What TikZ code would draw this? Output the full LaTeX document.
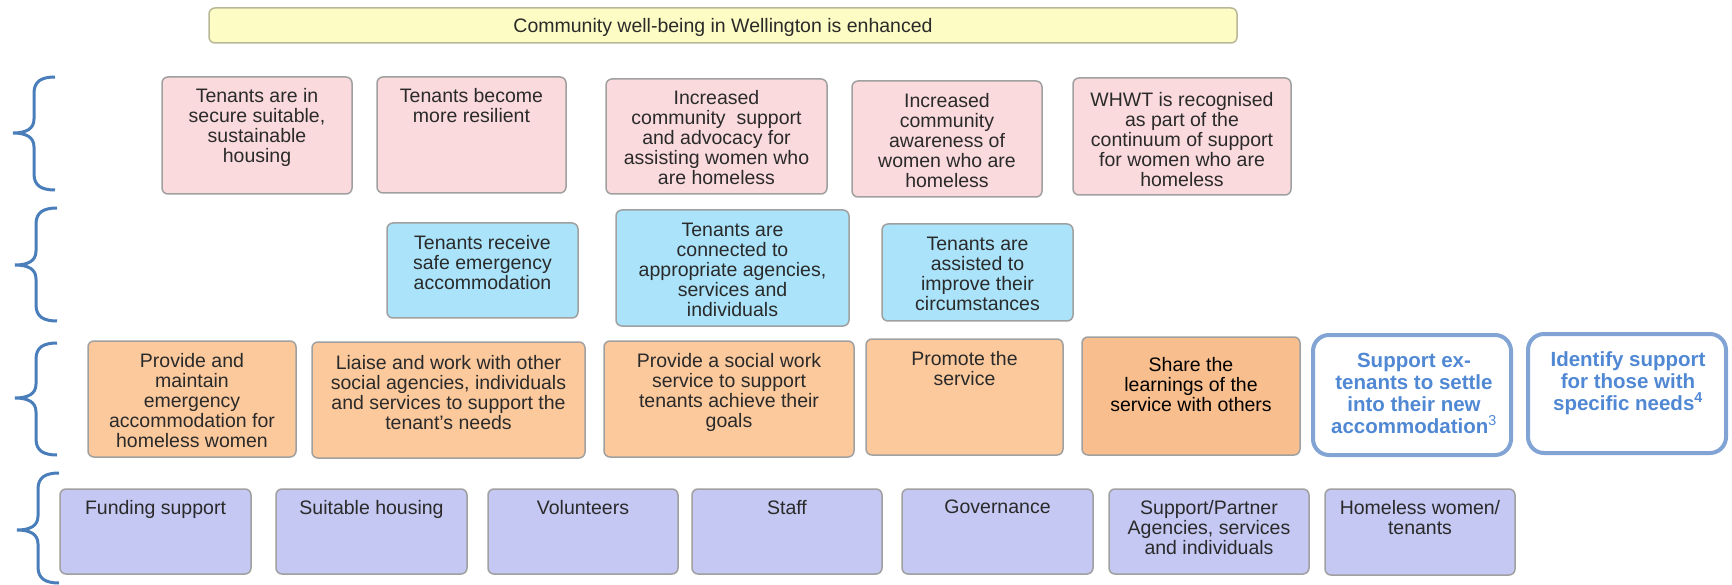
\documentclass[tikz,border=0pt]{standalone}
\usepackage{fontspec}
\setmainfont{Liberation Sans}

\definecolor{yellowfill}{RGB}{253,252,196}
\definecolor{yellowline}{RGB}{184,184,150}
\definecolor{pinkfill}{RGB}{250,218,221}
\definecolor{bluefill}{RGB}{170,227,250}
\definecolor{orangefill}{RGB}{252,201,157}
\definecolor{orangedark}{RGB}{248,190,141}
\definecolor{purplefill}{RGB}{196,200,242}
\definecolor{boxline}{RGB}{160,160,160}
\definecolor{bracecol}{RGB}{74,126,187}
\definecolor{outlinecol}{RGB}{130,164,212}
\definecolor{outlinetext}{RGB}{80,136,212}
\definecolor{textgray}{RGB}{42,42,42}

\begin{document}
\begin{tikzpicture}[x=1pt, y=-1pt,
  box/.style={draw=boxline, line width=1.5pt, rounded corners=6pt},
  outline/.style={draw=outlinecol, line width=4pt, rounded corners=16pt},
  txt/.style={anchor=north, inner sep=0pt, align=center, text=textgray,
    font=\fontsize{19.5}{20}\selectfont},
  boldtxt/.style={anchor=north, inner sep=0pt, align=center, text=outlinetext,
    font=\fontsize{20.5}{22}\selectfont\bfseries},
  brace/.style={draw=bracecol, line width=3pt}]
  \useasboundingbox (0,0) rectangle (1732,585);

  \foreach \ya/\ym/\yb/\dx in {77/133/190/0, 208/265/321/2, 343/398/455/2, 473/530/583/4}
    \draw[brace] (55+\dx,\ya) .. controls (42+\dx,\ya) and (34+\dx,\ya+4) .. (34+\dx,\ya+16)
      -- (34+\dx,\ym-14) .. controls (34+\dx,\ym-4) and (26+\dx,\ym) .. (13+\dx,\ym)
      .. controls (26+\dx,\ym) and (34+\dx,\ym+4) .. (34+\dx,\ym+14)
      -- (34+\dx,\yb-16) .. controls (34+\dx,\yb-4) and (42+\dx,\yb) .. (55+\dx,\yb);

  \draw[box, draw=yellowline, fill=yellowfill] (209,8) rectangle (1237,43);
  \node[txt, anchor=base] (goal) at (723,33) {Community well-being in Wellington is enhanced};

  \draw[box, fill=pinkfill] (162,77) rectangle (352,194);
  \draw[box, fill=pinkfill] (377,77) rectangle (566,193);
  \draw[box, fill=pinkfill] (606,79) rectangle (827,194);
  \draw[box, fill=pinkfill] (852,81) rectangle (1042,197);
  \draw[box, fill=pinkfill] (1073,78) rectangle (1291,195);
  \node[txt] (long1) at (257,88) {Tenants are in\\secure suitable,\\sustainable\\housing};
  \node[txt] (long2) at (471.5,88) {Tenants become\\more resilient};
  \node[txt] (long3) at (716.5,90) {Increased\\community\ \ support\\and advocacy for\\assisting women who\\are homeless};
  \node[txt] (long4) at (947,93) {Increased\\community\\awareness of\\women who are\\homeless};
  \node[txt] (long5) at (1182,92) {WHWT is recognised\\as part of the\\continuum of support\\for women who are\\homeless};

  \draw[box, fill=bluefill] (387,223) rectangle (578,318);
  \draw[box, fill=bluefill] (616,210) rectangle (849,326);
  \draw[box, fill=bluefill] (882,224) rectangle (1073,321);
  \node[txt] (short1) at (482.5,235) {Tenants receive\\safe emergency\\accommodation};
  \node[txt] (short2) at (732.5,223) {Tenants are\\connected to\\appropriate agencies,\\services and\\individuals};
  \node[txt] (short3) at (977.5,237) {Tenants are\\assisted to\\improve their\\circumstances};

  \draw[box, fill=orangefill] (88,341) rectangle (296,457);
  \draw[box, fill=orangefill] (312,342) rectangle (585,458);
  \draw[box, fill=orangefill] (604,341) rectangle (854,457);
  \draw[box, fill=orangefill] (866,339) rectangle (1063,455);
  \draw[box, fill=orangedark] (1082,337) rectangle (1300,455);
  \draw[outline] (1313,335) rectangle (1511,455);
  \draw[outline] (1528,334) rectangle (1726,453);
  \node[txt] (act1) at (192,353) {Provide and\\maintain\\emergency\\accommodation for\\homeless women};
  \node[txt] (act2) at (448.5,355) {Liaise and work with other\\social agencies, individuals\\and services to support the\\tenant's needs};
  \node[txt] (act3) at (729,353) {Provide a social work\\service to support\\tenants achieve their\\goals};
  \node[txt] (act4) at (964.5,351) {Promote the\\service};
  \node[txt, text=black] (act5) at (1191,357) {Share the\\learnings of the\\service with others};
  \node[boldtxt] (act6) at (1414,353) {Support ex-\\tenants to settle\\into their new\\accommodation\textsuperscript{\mdseries 3}};
  \node[boldtxt] (act7) at (1628,351) {Identify support\\for those with\\specific needs\textsuperscript{4}};

  \draw[box, fill=purplefill] (60,489) rectangle (251,574);
  \draw[box, fill=purplefill] (276,489) rectangle (467,574);
  \draw[box, fill=purplefill] (488,489) rectangle (678,574);
  \draw[box, fill=purplefill] (692,489) rectangle (882,574);
  \draw[box, fill=purplefill] (902,489) rectangle (1093,574);
  \draw[box, fill=purplefill] (1109,489) rectangle (1309,574);
  \draw[box, fill=purplefill] (1325,489) rectangle (1515,575);
  \node[txt] (in1) at (155.5,500) {Funding support};
  \node[txt] (in2) at (371.5,500) {Suitable housing};
  \node[txt] (in3) at (583,500) {Volunteers};
  \node[txt] (in4) at (787,500) {Staff};
  \node[txt] (in5) at (997.5,500) {Governance};
  \node[txt] (in6) at (1209,500) {Support/Partner\\Agencies, services\\and individuals};
  \node[txt] (in7) at (1420,500) {Homeless women/\\tenants};
\end{tikzpicture}
\end{document}
